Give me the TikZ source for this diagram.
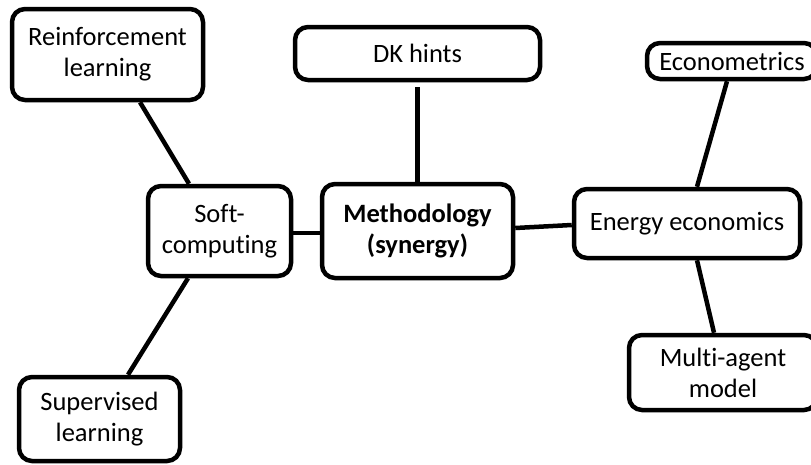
\documentclass[tikz,border=0pt]{standalone}
\usepackage{fontspec}
\setmainfont[RawFeature=-liga]{Carlito}
\usetikzlibrary{calc}
\begin{document}
\begin{tikzpicture}[x=1pt,y=-1pt,
  box/.style={draw=black,line width=4.5pt,rounded corners=13pt,fill=white,
    align=center,inner sep=0pt,font=\fontsize{26.5}{31}\selectfont},
  link/.style={line width=4.5pt}]
\useasboundingbox (0,0) rectangle (811,464);
\clip (0,0) rectangle (811,464);
% boxes
\node[box,minimum width=191pt,minimum height=91pt] (rl) at (107.5,54.5) {Reinforcement\\learning};
\node[box,minimum width=245pt,minimum height=53pt] (dk) at (417.5,53.5) {DK hints};
\node[box,minimum width=191pt,minimum height=94pt,font=\fontsize{26.5}{31}\selectfont\bfseries] (meth) at (417.5,231) {Methodology\\(synergy)};
\node[box,minimum width=143pt,minimum height=90pt] (sc) at (219.5,231) {Soft-\\computing};
\node[box,minimum width=226pt,minimum height=69pt] (ee) at (687,223.5) {Energy economics};
\node[box,minimum width=170pt,minimum height=36pt] (em) at (732,61) {Econometrics};
\node[box,minimum width=188pt,minimum height=75pt] (ma) at (723,372.5) {Multi-agent\\model};
\node[box,minimum width=161pt,minimum height=84pt] (sl) at (99.5,419) {Supervised\\learning};
% links between boxes
\draw[link] ($(rl.south)+(32.5,0)$) -- ($(sc.north)+(-30.5,0)$);
\draw[link] ($(sl.north)+(28.5,0)$) -- ($(sc.south)+(-31.5,0)$);
\draw[link,shorten >=5pt] (meth.north) -- (meth.north |- dk.south);
\draw[link] (sc.east |- 0,233) -- (meth.west |- 0,233);
\draw[link] (meth.east |- 0,228) -- (ee.west |- 0,225);
\draw[link] ($(em.south)+(-5,0)$) -- ($(ee.north)+(10,0)$);
\draw[link] ($(ee.south)+(10,0)$) -- ($(ma.north)+(-9,0)$);
\end{tikzpicture}
\end{document}
